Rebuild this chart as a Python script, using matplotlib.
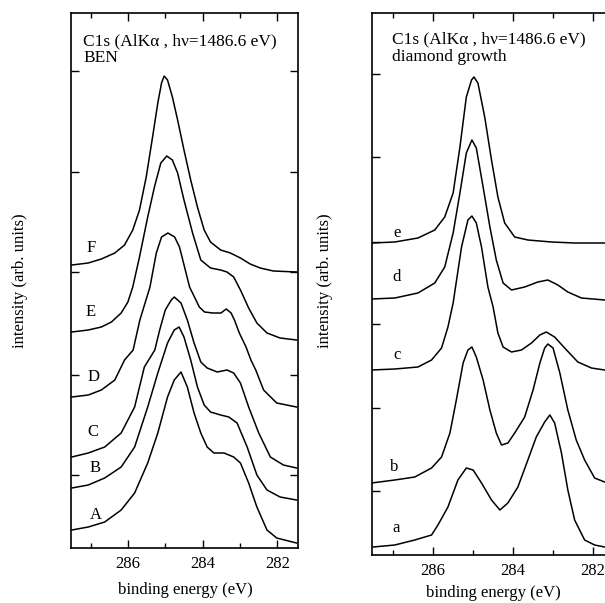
import matplotlib
matplotlib.use("Agg")
import matplotlib.pyplot as plt
from matplotlib.ticker import MultipleLocator

plt.rcParams['font.family'] = ['Liberation Serif', 'DejaVu Serif']
plt.rcParams['font.size'] = 12

# --- BEN spectra (binding energy in eV, intensity in arb. units) ---
F_E = [287.50, 287.06, 286.71, 286.35, 286.09, 285.87, 285.69, 285.51, 285.34, 285.20, 285.10,
       285.03, 284.94, 284.81, 284.67, 284.50, 284.32, 284.14, 283.96, 283.79, 283.52, 283.26,
       282.99, 282.73, 282.46, 282.11, 281.49]
F_I = [283, 285, 289, 295, 303, 318, 338, 371, 411, 445, 465,
       472, 468, 451, 428, 398, 368, 341, 318, 306, 298, 295,
       290, 284, 280, 277, 276]

E_E = [287.50, 287.06, 286.71, 286.44, 286.18, 286.00, 285.87, 285.69, 285.47, 285.29, 285.12,
       284.96, 284.81, 284.67, 284.50, 284.27, 284.05, 283.79, 283.52, 283.35, 283.17, 282.99,
       282.77, 282.55, 282.28, 281.93, 281.49]
E_I = [216, 218, 221, 226, 235, 246, 261, 291, 331, 361, 385,
       392, 388, 375, 348, 315, 288, 280, 278, 276, 271, 258,
       240, 225, 215, 210, 208]

D_E = [287.50, 287.06, 286.71, 286.35, 286.09, 285.86, 285.68, 285.41, 285.24, 285.10, 284.93,
       284.75, 284.62, 284.35, 284.09, 283.95, 283.73, 283.51, 283.37, 283.24, 283.15, 283.02,
       282.84, 282.71, 282.58, 282.37, 282.02, 281.49]
D_I = [151, 153, 158, 168, 188, 198, 228, 261, 295, 311, 315,
       311, 301, 261, 241, 236, 235, 235, 239, 235, 228, 215,
       201, 188, 178, 158, 145, 141]

C_E = [287.50, 287.06, 286.62, 286.18, 285.82, 285.56, 285.28, 285.15, 285.00, 284.84, 284.76,
       284.58, 284.41, 284.23, 284.05, 283.88, 283.61, 283.35, 283.17, 282.99, 282.77, 282.50,
       282.19, 281.84, 281.49]
C_I = [91, 95, 101, 115, 141, 181, 198, 218, 238, 248, 251,
       245, 228, 205, 186, 180, 176, 178, 175, 165, 141, 115,
       91, 83, 80]

B_E = [287.50, 287.06, 286.62, 286.18, 285.82, 285.47, 285.20, 284.94, 284.76, 284.63, 284.50,
       284.32, 284.14, 283.96, 283.79, 283.52, 283.30, 283.08, 282.81, 282.55, 282.28, 281.93,
       281.49]
B_I = [60, 63, 70, 81, 101, 141, 175, 205, 218, 221, 211,
       188, 161, 143, 136, 133, 131, 125, 101, 73, 58, 51,
       48]

A_E = [287.50, 287.06, 286.62, 286.18, 285.82, 285.47, 285.20, 284.94, 284.76, 284.58, 284.41,
       284.23, 284.05, 283.88, 283.70, 283.43, 283.17, 282.99, 282.77, 282.55, 282.28, 282.02,
       281.49]
A_I = [18, 21, 26, 38, 55, 85, 115, 151, 168, 176, 161,
       135, 115, 101, 95, 95, 91, 85, 65, 41, 18, 10,
       5]

# --- diamond growth spectra ---
e_E = [287.54, 286.96, 286.38, 285.96, 285.71, 285.50, 285.33, 285.17, 285.04, 284.98, 284.88,
       284.71, 284.54, 284.38, 284.21, 283.96, 283.63, 283.04, 282.46, 281.71]
e_I = [312, 313, 317, 325, 338, 362, 408, 458, 475, 478, 472,
       438, 395, 358, 332, 318, 315, 313, 312, 312]

d_E = [287.54, 286.96, 286.38, 285.96, 285.71, 285.50, 285.33, 285.17, 285.03, 284.92, 284.75,
       284.58, 284.42, 284.25, 284.04, 283.71, 283.38, 283.13, 282.88, 282.63, 282.29, 281.71]
d_I = [256, 257, 262, 272, 288, 322, 362, 402, 415, 407, 368,
       328, 295, 272, 265, 268, 273, 275, 270, 263, 257, 255]

c_E = [287.54, 286.96, 286.38, 286.04, 285.79, 285.63, 285.50, 285.29, 285.13, 285.03, 284.92,
       284.79, 284.63, 284.50, 284.38, 284.25, 284.04, 283.79, 283.54, 283.33, 283.17, 282.96,
       282.71, 282.38, 282.04, 281.71]
c_I = [185, 186, 188, 195, 207, 228, 252, 308, 335, 339, 332,
       308, 268, 248, 222, 208, 203, 205, 212, 220, 223, 218,
       207, 193, 187, 185]

b_E = [287.54, 286.96, 286.46, 286.04, 285.79, 285.58, 285.42, 285.25, 285.13, 285.03, 284.92,
       284.75, 284.58, 284.42, 284.29, 284.13, 283.96, 283.71, 283.50, 283.33, 283.21, 283.13,
       283.00, 282.83, 282.63, 282.42, 282.21, 281.96, 281.71]
b_I = [72, 75, 78, 87, 98, 122, 155, 192, 205, 208, 198,
       175, 145, 122, 110, 112, 122, 138, 165, 192, 207, 211,
       207, 182, 145, 115, 95, 77, 73]

a_E = [287.50, 286.96, 286.46, 286.04, 285.88, 285.63, 285.38, 285.17, 285.00, 284.79, 284.54,
       284.33, 284.13, 283.88, 283.63, 283.42, 283.21, 283.08, 282.96, 282.79, 282.63, 282.46,
       282.21, 281.96, 281.71]
a_I = [8, 10, 15, 20, 30, 48, 75, 87, 85, 72, 55,
       45, 52, 68, 95, 118, 133, 140, 132, 102, 65, 35,
       15, 10, 8]

ben_curves = [(F_E, F_I), (E_E, E_I), (D_E, D_I), (C_E, C_I), (B_E, B_I), (A_E, A_I)]
ben_labels = ['F', 'E', 'D', 'C', 'B', 'A']
dia_curves = [(e_E, e_I), (d_E, d_I), (c_E, c_I), (b_E, b_I), (a_E, a_I)]
dia_labels = ['e', 'd', 'c', 'b', 'a']

header = 'C1s (AlKα , hν=1486.6 eV)'

fig = plt.figure(figsize=(6.05, 6.03), dpi=100)
W, H = 605, 603

# axes placed in pixel units of the reference (right panel runs past the edge)
ax1 = fig.add_axes([70.7 / W, (H - 548) / H, 227.3 / W, 535 / H])
ax2 = fig.add_axes([372 / W, (H - 555) / H, 243 / W, 542 / H])


def style(ax, yticks, ymax):
    ax.set_xlim(287.53, 281.45)
    ax.set_ylim(0, ymax)
    ax.xaxis.set_major_locator(MultipleLocator(2))
    ax.xaxis.set_minor_locator(MultipleLocator(1))
    ax.set_yticks(yticks)
    ax.set_yticklabels([])
    ax.tick_params(which='both', direction='in', top=True, right=True, width=1.0)
    ax.tick_params(which='major', length=6, labelsize=12, pad=6)
    ax.tick_params(which='minor', length=3.5)
    ax.tick_params(axis='y', which='major', length=5.5)
    for s in ax.spines.values():
        s.set_linewidth(1.2)


style(ax1, [73, 173, 276, 376, 477], 535)
style(ax2, [64, 147, 231, 313, 398, 481], 542)

for (x, y) in ben_curves:
    ax1.plot(x, y, color='black', lw=1.1)
for (x, y) in dia_curves:
    ax2.plot(x, y, color='black', lw=1.1)

# curve labels
for lab, (ex, iy) in zip(ben_labels, [(286.99, 300), (287.0, 236), (286.92, 171),
                                       (286.94, 116), (286.88, 80), (286.85, 33)]):
    ax1.text(ex, iy, lab, ha='center', va='center', fontsize=12)
for lab, (ex, iy) in zip(dia_labels, [(286.91, 322), (286.91, 278), (286.91, 200),
                                       (286.97, 88), (286.93, 27)]):
    ax2.text(ex, iy, lab, ha='center', va='center', fontsize=12)

fig.text(83 / W, 1 - 45 / H, header, fontsize=12.5, va='baseline')
fig.text(83 / W, 1 - 62 / H, 'BEN', fontsize=12.5, va='baseline')
fig.text(392 / W, 1 - 43.5 / H, header, fontsize=12.5, va='baseline')
fig.text(392 / W, 1 - 61 / H, 'diamond growth', fontsize=12.5, va='baseline')

fig.text(20 / W, 1 - 281 / H, 'intensity (arb. units)', rotation=90,
         ha='center', va='center', fontsize=12)
fig.text(325 / W, 1 - 281 / H, 'intensity (arb. units)', rotation=90,
         ha='center', va='center', fontsize=12)
fig.text(185 / W, 1 - 590 / H, 'binding energy (eV)', ha='center', va='center', fontsize=12)
fig.text(493 / W, 1 - 593 / H, 'binding energy (eV)', ha='center', va='center', fontsize=12)

fig.savefig('out.png', dpi=100)
